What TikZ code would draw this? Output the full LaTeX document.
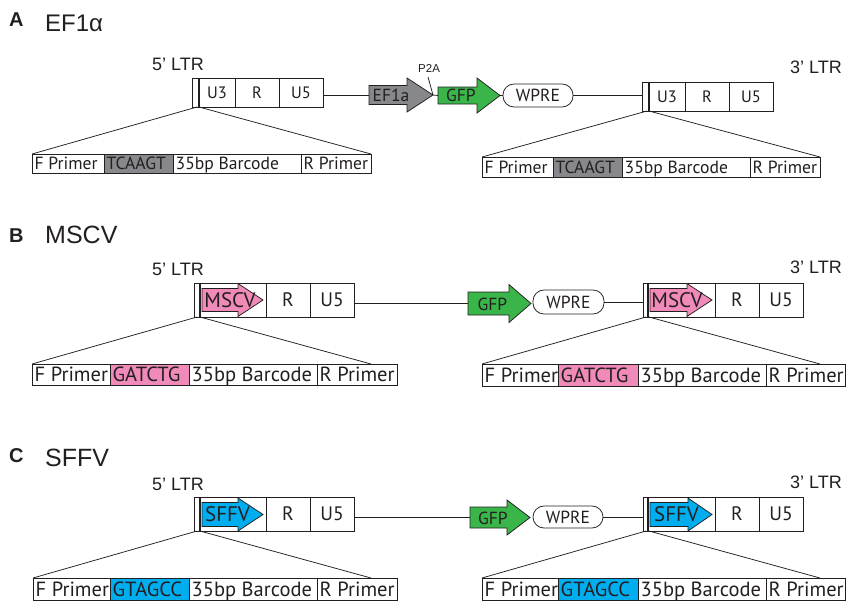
\documentclass[tikz,border=0pt]{standalone}
\usepackage{fontspec}
\setmainfont{Liberation Sans}
\newfontfamily\myr{PT Sans}
\definecolor{txt}{RGB}{35,31,32}
\definecolor{grayA}{RGB}{135,136,139}
\definecolor{greenc}{RGB}{57,181,74}
\definecolor{pinkc}{RGB}{240,138,185}
\definecolor{bluec}{RGB}{0,174,239}
\newcommand{\fsz}[1]{\fontsize{#1}{#1}\selectfont}
\tikzset{
  ln/.style={draw=txt, line width=0.75pt},
  thickln/.style={draw=txt, line width=2pt},
  cellbox/.style={draw=txt, line width=0.75pt, inner sep=0pt, outer sep=0pt, anchor=north west, text=txt},
  wpre/.style={draw=txt, line width=0.75pt, rounded corners=11pt, inner sep=0pt, text=txt, font=\myr\fsz{17.5}},
  lbl/.style={anchor=base west, inner sep=0pt, text=txt},
  intext/.style={inner sep=0pt, text=txt},
}
% barcode cell: name,x,y,w,h,fill,text,size
\newcommand{\bcell}[8]{%
  \node[cellbox, fill=#6, minimum width=#4, minimum height=#5] (#1) at (#2,#3) {};
  \node[anchor=base west, inner sep=0pt, text=txt, font=\myr\fsz{#8}] (#1t) at ([xshift=2.5pt, yshift=3.4pt]#1.south west) {#7};
}
% LTR cell: name,x,y,w,h,text,size
\newcommand{\lcell}[7]{%
  \node[cellbox, minimum width=#4, minimum height=#5, font=\myr\fsz{#7}] (#1) at (#2,#3) {#6};
}
% block arrow: name, xstart, xhead, xtip, ycenter, body half, head half, fill
\newcommand{\parr}[8]{%
  \filldraw[fill=#8, draw=txt, line width=0.75pt, line join=miter] (#2,{#5-#6}) -- (#3,{#5-#6}) -- (#3,{#5-#7}) -- (#4,#5) -- (#3,{#5+#7}) -- (#3,{#5+#6}) -- (#2,{#5+#6}) -- cycle;
  \coordinate (#1s) at (#2,#5);
  \coordinate (#1t) at (#4,#5);
}
\begin{document}
\begin{tikzpicture}[x=1pt,y=-1pt]
\useasboundingbox (0,0) rectangle (846,600);
\fill[white] (0,0) rectangle (846,600);

%================ Panel A =================
\node[lbl, font=\bfseries\fsz{20}] (Alab) at (9,26) {A};
\node[lbl, font=\fsz{24}] (Atit) at (45,31) {EF1α};
\node[lbl, font=\fsz{18}] (A5lab) at (152,70.5) {5’ LTR};
\node[lbl, font=\fsz{18}] (A3lab) at (790,73) {3’ LTR};

% 5' LTR
\node[cellbox, minimum width=7, minimum height=29] (A5a) at (192,78) {};
\lcell{A5b}{199}{78}{36}{29}{U3}{16.5}
\lcell{A5c}{235}{78}{44}{29}{R}{16.5}
\lcell{A5d}{279}{78}{44}{29}{U5}{16.5}
\draw[thickln] (A5b.north west) -- (A5b.south west);

% EF1a, P2A, GFP, WPRE
\parr{Aef}{369}{407}{433}{95}{9.5}{17}{grayA}
\node[intext, font=\myr\fsz{17.5}] (Aefl) at (391,95) {EF1a};
\draw[ln] (A5d.east |- Aefs) -- (Aefs);
\node[lbl, font=\fsz{11.5}] (Ap2a) at (418,72) {P2A};
\coordinate (Ap2) at (428,77);
\draw[ln] (Ap2) -- (Aeft);
\parr{Agf}{438}{477}{500}{95.5}{8.5}{17.5}{greenc}
\node[intext, font=\myr\fsz{17.5}] (Agfl) at (461,95.5) {GFP};
\draw[ln] (Aeft) -- (Agfs);
\node[wpre, minimum width=70, minimum height=23] (Awp) at (538,95.5) {WPRE};
\draw[ln] (Agft) -- (Awp.west);

% 3' LTR
\node[cellbox, minimum width=7, minimum height=29] (A3a) at (642,82) {};
\lcell{A3b}{649}{82}{36}{29}{U3}{16.5}
\lcell{A3c}{685}{82}{44}{29}{R}{16.5}
\lcell{A3d}{729}{82}{44}{29}{U5}{16.5}
\draw[thickln] (A3b.north west) -- (A3b.south west);
\draw[ln] (Awp.east) -- (Awp.east -| A3a.west);

% barcodes
\bcell{ALf}{32}{154}{72}{19}{white}{F Primer}{17.6}
\bcell{ALk}{104}{154}{69}{19}{grayA}{TCAAGT}{17.6}
\bcell{ALb}{173}{154}{128}{19}{white}{35bp Barcode}{17.6}
\bcell{ALr}{301}{154}{70}{19}{white}{R Primer}{17.6}
\draw[ln] ([xshift=-2pt]A5b.south west) -- (ALf.north west);
\draw[ln] (A5b.south west) -- (ALr.north east);

\bcell{ARf}{482}{157}{71}{20}{white}{F Primer}{17.6}
\bcell{ARk}{553}{157}{69}{20}{grayA}{TCAAGT}{17.6}
\bcell{ARb}{622}{157}{128}{20}{white}{35bp Barcode}{17.6}
\bcell{ARr}{750}{157}{70}{20}{white}{R Primer}{17.6}
\draw[ln] ([xshift=-2pt]A3b.south west) -- (ARf.north west);
\draw[ln] (A3b.south west) -- (ARr.north east);

%================ Panel B =================
\node[lbl, font=\bfseries\fsz{20}] (Blab) at (9,242.5) {B};
\node[lbl, font=\fsz{25}] (Btit) at (45,243) {MSCV};
\node[lbl, font=\fsz{18}] (B5lab) at (152,275.5) {5’ LTR};
\node[lbl, font=\fsz{18}] (B3lab) at (790,273.3) {3’ LTR};

\node[cellbox, minimum width=6, minimum height=34] (B5a) at (194,283) {};
\lcell{B5b}{200}{283}{66}{34}{}{19.5}
\lcell{B5c}{266}{283}{44}{34}{R}{19.5}
\lcell{B5d}{310}{283}{44}{34}{U5}{19.5}
\parr{B5p}{202}{238}{263}{300}{11.5}{16.5}{pinkc}
\node[intext, font=\myr\fsz{21}] (B5pl) at (230,300) {MSCV};
\draw[thickln] (B5b.north west) -- (B5b.south west);

\parr{Bgf}{468}{509}{531}{303.5}{11.5}{19}{greenc}
\node[intext, font=\myr\fsz{17.5}] (Bgfl) at (492.5,304) {GFP};
\draw[ln] (B5d.east |- Bgfs) -- (Bgfs);
\node[wpre, minimum width=71, minimum height=24] (Bwp) at (568.5,302) {WPRE};

\node[cellbox, minimum width=5, minimum height=34] (B3a) at (643,283) {};
\lcell{B3b}{648}{283}{67}{34}{}{19.5}
\lcell{B3c}{715}{283}{44}{34}{R}{19.5}
\lcell{B3d}{759}{283}{44}{34}{U5}{19.5}
\parr{B3p}{650}{687}{712}{300}{11.5}{16.5}{pinkc}
\node[intext, font=\myr\fsz{21}] (B3pl) at (677,300) {MSCV};
\draw[thickln] (B3b.north west) -- (B3b.south west);
\draw[ln] (Bwp.east) -- (Bwp.east -| B3a.west);

\bcell{BLf}{32}{364}{78}{21}{white}{F Primer}{20.5}
\bcell{BLk}{110}{364}{79}{21}{pinkc}{GATCTG}{20.5}
\bcell{BLb}{189}{364}{128}{21}{white}{35bp Barcode}{20.5}
\bcell{BLr}{317}{364}{80}{21}{white}{R Primer}{20.5}
\coordinate (BLe) at ([xshift=54pt]BLr.north west);
\draw[ln] ([xshift=-3pt]B5b.south west) -- (BLf.north west);
\draw[ln] (B5b.south west) -- (BLe);

\bcell{BRf}{482}{364}{76}{22}{white}{F Primer}{20.5}
\bcell{BRk}{558}{364}{80}{22}{pinkc}{GATCTG}{20.5}
\bcell{BRb}{638}{364}{128}{22}{white}{35bp Barcode}{20.5}
\bcell{BRr}{766}{364}{79}{22}{white}{R Primer}{20.5}
\coordinate (BRe) at ([xshift=54pt]BRr.north west);
\draw[ln] ([xshift=-2pt]B3b.south west) -- (BRf.north west);
\draw[ln] ([xshift=1pt]B3b.south west) -- (BRe);

%================ Panel C =================
\node[lbl, font=\bfseries\fsz{20}] (Clab) at (9,462) {C};
\node[lbl, font=\fsz{25}] (Ctit) at (45,466) {SFFV};
\node[lbl, font=\fsz{18}] (C5lab) at (152,490) {5’ LTR};
\node[lbl, font=\fsz{18}] (C3lab) at (790,488.3) {3’ LTR};

\node[cellbox, minimum width=6, minimum height=34] (C5a) at (194,497) {};
\lcell{C5b}{200}{497}{66}{34}{}{19.5}
\lcell{C5c}{266}{497}{44}{34}{R}{19.5}
\lcell{C5d}{310}{497}{44}{34}{U5}{19.5}
\parr{C5p}{202}{238}{263}{514.5}{12}{16.5}{bluec}
\node[intext, font=\myr\fsz{21}] (C5pl) at (227.5,514.5) {SFFV};
\draw[thickln] (C5b.north west) -- (C5b.south west);

\parr{Cgf}{470}{507}{530}{517.5}{10.5}{17.5}{greenc}
\node[intext, font=\myr\fsz{17.5}] (Cgfl) at (493,518) {GFP};
\draw[ln] (C5d.east |- Cgfs) -- (Cgfs);
\node[wpre, minimum width=70, minimum height=22] (Cwp) at (568,517) {WPRE};

\node[cellbox, minimum width=5, minimum height=34] (C3a) at (643,497) {};
\lcell{C3b}{648}{497}{67}{34}{}{19.5}
\lcell{C3c}{715}{497}{44}{34}{R}{19.5}
\lcell{C3d}{759}{497}{44}{34}{U5}{19.5}
\parr{C3p}{650}{688}{712}{514.5}{12}{16.5}{bluec}
\node[intext, font=\myr\fsz{21}] (C3pl) at (676.5,514.5) {SFFV};
\draw[thickln] (C3b.north west) -- (C3b.south west);
\draw[ln] (Cwp.east) -- (Cwp.east -| C3a.west);

\bcell{CLf}{33}{578}{77}{22}{white}{F Primer}{20.5}
\bcell{CLk}{110}{578}{79}{22}{bluec}{GTAGCC}{20.5}
\bcell{CLb}{189}{578}{128}{22}{white}{35bp Barcode}{20.5}
\bcell{CLr}{317}{578}{80}{22}{white}{R Primer}{20.5}
\coordinate (CLe) at ([xshift=54pt]CLr.north west);
\draw[ln] ([xshift=-3pt]C5b.south west) -- (CLf.north west);
\draw[ln] (C5b.south west) -- (CLe);

\bcell{CRf}{482}{578}{76}{22}{white}{F Primer}{20.5}
\bcell{CRk}{558}{578}{80}{22}{bluec}{GTAGCC}{20.5}
\bcell{CRb}{638}{578}{128}{22}{white}{35bp Barcode}{20.5}
\bcell{CRr}{766}{578}{79}{22}{white}{R Primer}{20.5}
\coordinate (CRe) at ([xshift=54pt]CRr.north west);
\draw[ln] ([xshift=-2pt]C3b.south west) -- (CRf.north west);
\draw[ln] ([xshift=1pt]C3b.south west) -- (CRe);
\end{tikzpicture}
\end{document}
